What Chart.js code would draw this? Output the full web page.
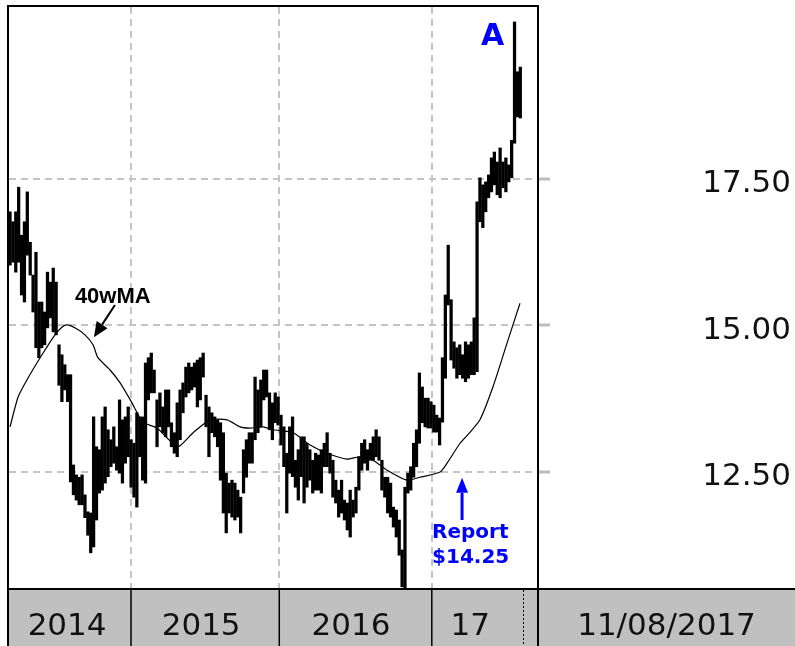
<!DOCTYPE html>
<html><head><meta charset="utf-8">
<script src="https://cdn.jsdelivr.net/npm/chart.js@4/dist/chart.umd.min.js"></script>
<style>html,body{margin:0;padding:0;background:#fff;}canvas{display:block;}</style>
</head><body>
<canvas id="c" width="795" height="646"></canvas>
<script>
// Weekly high/low prices, one bar per week (index 0 = first visible week of 2014)
const highs = [16.94,16.77,16.94,17.36,16.54,16.77,17.28,16.42,15.86,16.25,15.40,15.40,15.23,15.91,15.74,15.98,15.74,14.67,14.50,14.33,
14.16,14.16,12.62,12.45,12.41,12.45,12.11,11.82,11.80,13.44,12.93,12.88,13.44,13.61,13.22,13.05,13.27,12.93,13.73,13.39,
13.44,13.61,13.05,12.99,13.51,13.44,13.44,14.36,14.45,14.53,14.24,13.73,13.85,13.61,13.90,13.90,13.34,13.17,13.68,13.90,
14.02,14.29,14.36,14.29,14.36,14.41,14.45,14.53,13.81,13.61,13.51,13.44,13.39,13.34,13.17,12.48,12.31,12.36,12.31,12.19,
12.07,12.88,13.05,13.17,13.17,14.12,13.90,14.07,14.24,14.24,13.85,13.68,13.85,13.78,13.47,13.27,12.82,13.27,13.44,12.70,
12.88,13.10,13.10,12.99,12.88,12.70,12.82,12.79,12.88,12.99,13.17,12.82,12.70,12.36,12.19,12.36,12.02,11.97,12.19,12.02,
12.24,12.76,12.99,13.05,12.88,12.99,13.10,13.22,13.10,12.70,12.41,12.41,12.31,11.90,11.85,11.68,11.17,12.24,12.48,12.59,
12.99,13.22,14.19,13.95,13.76,13.76,13.70,13.64,13.47,13.42,14.45,15.52,16.37,15.44,14.72,14.62,14.67,14.50,14.72,14.67,
14.72,15.13,17.11,17.52,17.40,17.45,17.57,17.86,17.96,17.79,18.03,17.79,17.86,17.74,18.16,20.18,19.33,19.41];
const lows = [16.03,16.08,15.91,16.08,15.52,15.40,16.20,15.86,15.23,14.62,14.45,14.62,14.67,14.96,15.13,14.89,14.84,13.98,13.70,13.90,
13.70,12.33,12.11,12.02,11.94,11.94,11.72,11.42,11.12,11.22,11.68,12.14,12.19,12.31,12.42,12.59,12.65,12.53,12.48,12.31,
12.65,12.76,12.24,12.07,11.90,12.76,12.36,12.31,13.73,13.85,13.85,12.93,13.27,13.17,13.10,13.27,12.93,12.82,12.76,13.05,
13.51,13.78,13.85,13.90,13.95,13.61,13.73,14.12,13.27,12.76,13.17,13.10,12.93,12.36,11.80,11.46,11.80,11.73,11.68,11.73,
11.46,12.14,12.41,12.65,12.65,13.05,13.17,13.27,13.73,13.78,13.22,13.05,13.34,13.30,12.96,12.59,11.80,12.48,12.42,12.24,
12.02,12.42,11.97,12.24,12.36,12.14,12.19,12.19,12.14,12.59,12.59,12.48,12.07,11.97,11.73,11.80,11.68,11.51,11.39,11.73,
11.80,12.19,12.53,12.65,12.53,12.70,12.70,12.76,12.70,12.19,12.07,11.80,11.73,11.56,11.39,11.08,10.54,10.52,12.14,12.19,
12.41,12.59,12.99,13.34,13.27,13.25,13.25,13.18,13.18,12.96,13.35,14.10,15.35,14.41,14.27,14.10,14.16,14.10,14.04,14.10,
14.16,14.16,14.21,16.77,16.67,16.94,17.18,17.28,17.40,17.23,17.18,17.35,17.28,17.45,17.52,18.11,18.56,18.54];
// 40-week moving average, read at these week positions
const maWeeks = [0,2.8,6.2,11.1,15.6,18.0,19.8,22.5,26.0,28.8,30.5,34.7,38.2,42.3,46.1,51.0,54.5,58.3,63.5,69.4,
75.3,79.8,83.2,87.8,91.2,98.2,104.1,110.0,116.9,121.4,125.9,130.8,137.7,142.2,149.2,151.6,156.1,159.6,163.0,167.5,172.4,176.9];
const maValues = [13.27,13.78,14.10,14.50,14.84,14.97,15.01,14.96,14.84,14.67,14.45,14.24,14.02,13.68,13.35,13.25,13.08,12.93,13.17,13.39,
13.39,13.27,13.25,13.27,13.22,13.17,12.96,12.82,12.72,12.76,12.70,12.53,12.36,12.41,12.50,12.65,12.99,13.18,13.39,13.95,14.70,15.38];
// Year boundaries (week positions) and band labels
const yearBreaks = [41.97, 93.4, 146.3];
const bandLabels = ['2014', '2015', '2016', '17'];
const bandLabelWeeks = [19.8, 66.3, 118.3, 159.6];
const currentWeekMark = 177.9;
const endDateLabel = '11/08/2017';
const yTicks = [12.5, 15, 17.5];

const AXIS_FONT = '"DejaVu Sans", sans-serif';
const AXIS_WEIGHT = 'normal';
const AXIS_SIZE = 31;

function arrow(ctx, x1, y1, x2, y2, headLen, headHalf, lw, color) {
  const ang = Math.atan2(y2 - y1, x2 - x1);
  const bx = x2 - headLen * Math.cos(ang), by = y2 - headLen * Math.sin(ang);
  ctx.strokeStyle = color; ctx.fillStyle = color; ctx.lineWidth = lw;
  ctx.beginPath(); ctx.moveTo(x1, y1); ctx.lineTo(bx, by); ctx.stroke();
  ctx.beginPath();
  ctx.moveTo(x2, y2);
  ctx.lineTo(bx + headHalf * Math.sin(ang), by - headHalf * Math.cos(ang));
  ctx.lineTo(bx - headHalf * Math.sin(ang), by + headHalf * Math.cos(ang));
  ctx.closePath(); ctx.fill();
}

const framePlugin = {
  id: 'frame',
  afterDraw(chart) {
    const {ctx, chartArea: a, scales: {x, y}} = chart;
    const W = chart.width, H = chart.height;
    ctx.save();
    // bottom band
    ctx.fillStyle = '#c0c0c0';
    ctx.fillRect(a.left, a.bottom + 1, W - a.left, H - a.bottom - 1);
    ctx.strokeStyle = '#000';
    ctx.lineWidth = 2;
    ctx.beginPath();
    ctx.moveTo(a.left - 2, a.bottom + 1); ctx.lineTo(W, a.bottom + 1);
    ctx.moveTo(a.left - 1, a.top - 2); ctx.lineTo(a.left - 1, H);
    ctx.moveTo(a.left - 2, a.top - 1); ctx.lineTo(a.right + 1, a.top - 1);
    ctx.moveTo(a.right, a.top - 2); ctx.lineTo(a.right, H);
    ctx.stroke();
    // band separators
    ctx.lineWidth = 1.5;
    ctx.beginPath();
    yearBreaks.forEach(b => {
      const px = x.getPixelForValue(b);
      ctx.moveTo(px, a.bottom + 1); ctx.lineTo(px, H);
    });
    ctx.stroke();
    ctx.lineWidth = 1;
    ctx.setLineDash([2, 2]);
    ctx.beginPath();
    const cw = Math.round(x.getPixelForValue(currentWeekMark)) + 0.5;
    ctx.moveTo(cw, a.bottom + 2); ctx.lineTo(cw, H);
    ctx.stroke();
    ctx.setLineDash([]);
    // band labels
    ctx.fillStyle = '#111';
    ctx.font = `${AXIS_WEIGHT} ${AXIS_SIZE}px ${AXIS_FONT}`;
    ctx.textAlign = 'center';
    ctx.textBaseline = 'alphabetic';
    bandLabels.forEach((t, i) => ctx.fillText(t, x.getPixelForValue(bandLabelWeeks[i]), 635));
    ctx.fillText(endDateLabel, (a.right + W) / 2, 635);
    // annotations
    ctx.fillStyle = '#0000ff';
    ctx.font = 'bold 30px "DejaVu Sans", sans-serif';
    ctx.fillText('A', x.getPixelForValue(167.4), y.getPixelForValue(19.79));
    ctx.font = 'bold 20px "DejaVu Sans", sans-serif';
    ctx.textAlign = 'left';
    ctx.fillText('Report', x.getPixelForValue(146.4), y.getPixelForValue(11.37));
    ctx.fillText('$14.25', x.getPixelForValue(146.4), y.getPixelForValue(10.95));
    const ax = x.getPixelForValue(156.8);
    arrow(ctx, ax, y.getPixelForValue(11.68), ax, y.getPixelForValue(12.40), 15, 6, 3, '#0000ff');
    ctx.fillStyle = '#000';
    ctx.font = 'bold 22px "Liberation Sans", Arial, sans-serif';
    ctx.fillText('40wMA', x.getPixelForValue(22.5), y.getPixelForValue(15.38));
    arrow(ctx, x.getPixelForValue(36.4), y.getPixelForValue(15.35), x.getPixelForValue(29.1), y.getPixelForValue(14.80), 15, 6.5, 2, '#000');
    ctx.restore();
  }
};

const barData = highs.map((h, i) => ({x: i, y: [lows[i], h]}));
const maData = maWeeks.map((w, i) => ({x: w, y: maValues[i]}));

new Chart(document.getElementById('c'), {
  type: 'bar',
  data: {
    datasets: [
      {type: 'line', data: maData, borderColor: '#000', borderWidth: 1.2, pointRadius: 0, tension: 0.2, order: 0},
      {type: 'bar', data: barData, backgroundColor: '#000', borderWidth: 0, barThickness: 2.6, grouped: false, order: 1}
    ]
  },
  options: {
    responsive: false,
    animation: false,
    devicePixelRatio: 1,
    layout: {padding: {left: 9, top: 7, right: 4, bottom: 0}},
    plugins: {legend: {display: false}, tooltip: {enabled: false}},
    scales: {
      x: {
        type: 'linear', min: -0.35, max: 183.14, offset: false,
        afterBuildTicks: s => { s.ticks = yearBreaks.map(v => ({value: v})); },
        afterFit: s => { s.height = 58; s.paddingLeft = 0; s.paddingRight = 0; },
        grid: {color: '#c4c4c4', lineWidth: 2, drawTicks: false, offset: false},
        border: {display: false, dash: [7, 5]},
        ticks: {display: false}
      },
      y: {
        position: 'right', min: 10.52, max: 20.435,
        afterBuildTicks: s => { s.ticks = yTicks.map(v => ({value: v})); },
        afterFit: s => { s.width = 253; s.paddingTop = 0; s.paddingBottom = 0; },
        grid: {color: '#c4c4c4', lineWidth: 2, drawTicks: true, tickLength: 12, tickColor: '#bdbdbd', tickWidth: 3},
        border: {display: false, dash: [7, 5]},
        ticks: {
          font: {family: AXIS_FONT, size: AXIS_SIZE, weight: AXIS_WEIGHT},
          color: '#111', crossAlign: 'far', padding: 8, labelOffset: 5,
          callback: v => Number(v).toFixed(2)
        }
      }
    }
  },
  plugins: [framePlugin]
});
</script>
</body></html>
